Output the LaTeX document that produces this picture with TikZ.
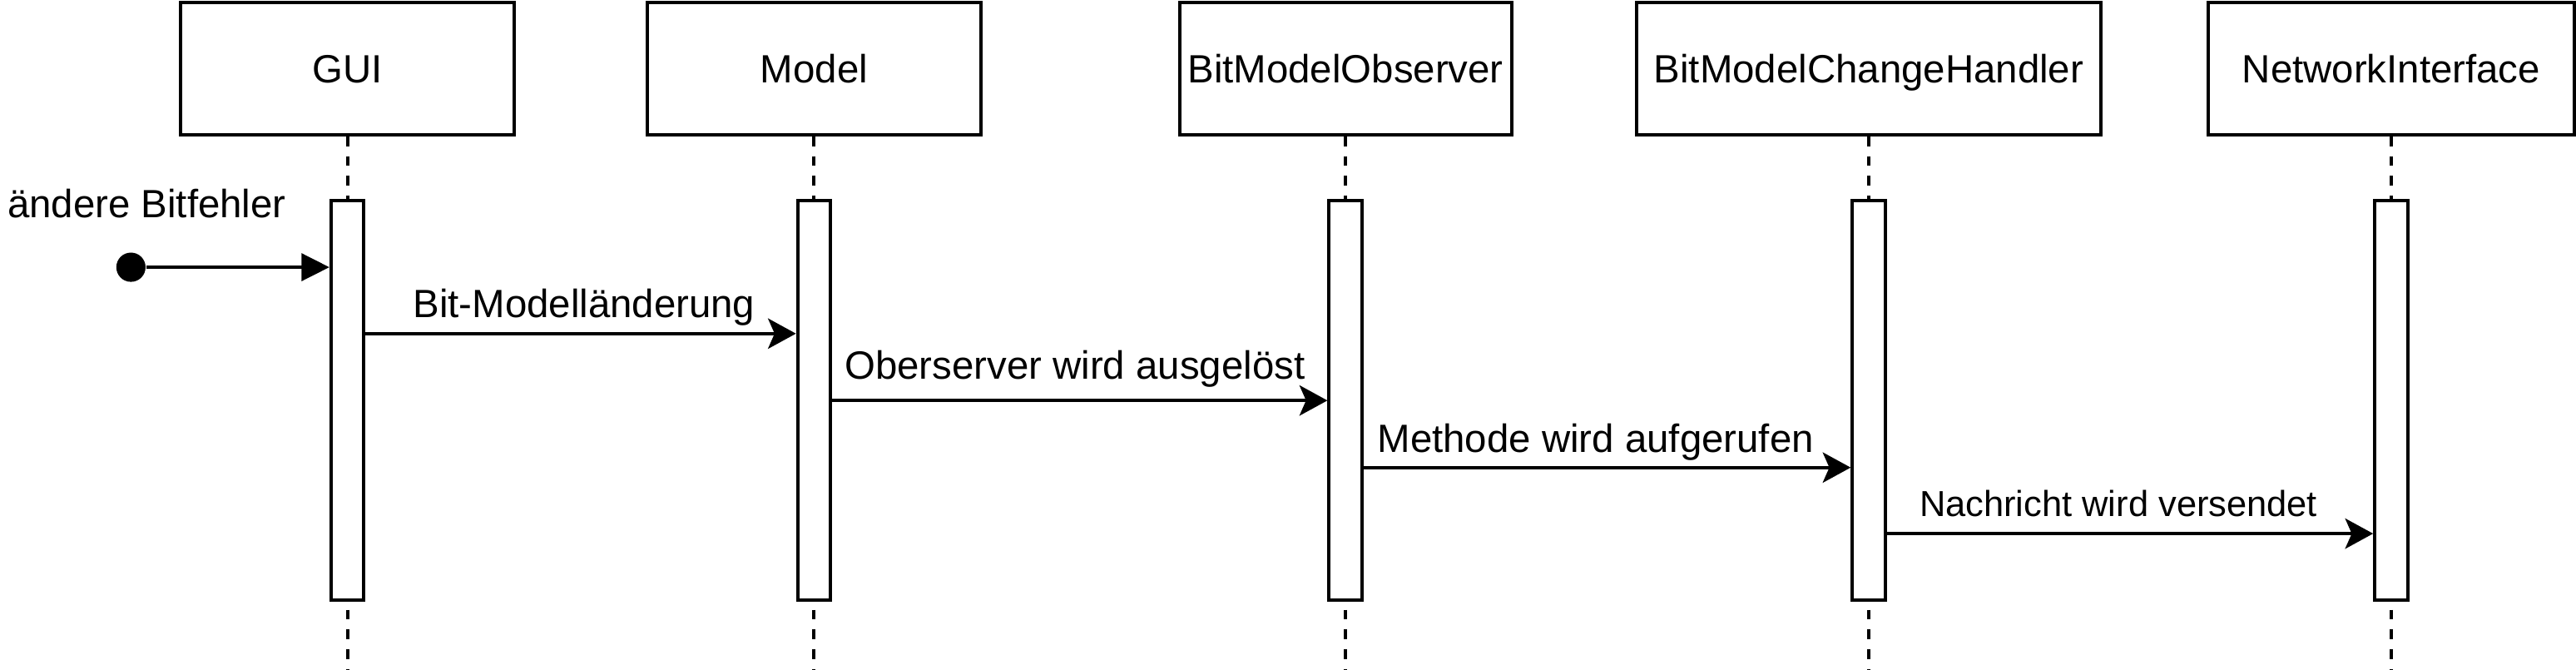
\documentclass[tikz,border=0pt]{standalone}
\usepackage{fontspec}
\setmainfont{Liberation Sans}
\usetikzlibrary{arrows.meta,positioning,calc}

\begin{document}
\begin{tikzpicture}[x=0.5pt, y=-0.5pt,
    lifebox/.style={draw, rectangle, line width=1pt, minimum height=40.2pt, inner sep=0pt,
      text height=8.6pt, text depth=0pt, font=\fontsize{12}{14}\selectfont},
    actbar/.style={draw, rectangle, line width=1pt, fill=white, minimum width=10pt,
      minimum height=121.5pt, inner sep=0pt},
    lifeline/.style={line width=1pt, dash pattern=on 3pt off 3pt},
    msg/.style={line width=1pt, -{Stealth[length=8.5pt, width=9.2pt, inset=2pt]}},
    msglabel/.style={midway, anchor=base, inner sep=0pt, font=\fontsize{12}{14}\selectfont}]
    \useasboundingbox (0,0) rectangle (1568,407.2);
    \coordinate (bottom) at (0,407.2);
    \coordinate (barmid) at (0,243.5);
    % Teilnehmer
    \node[lifebox, minimum width=101.5pt] (gui) at (211.5,41.8) {GUI};
    \node[lifebox, minimum width=101.5pt] (model) at (495.5,41.8) {Model};
    \node[lifebox, minimum width=101pt] (observer) at (819,41.8) {BitModelObserver};
    \node[lifebox, minimum width=141.5pt] (handler) at (1137.5,41.8) {BitModelChangeHandler};
    \node[lifebox, minimum width=111.5pt] (netif) at (1455.5,41.8) {NetworkInterface};
    % Lebenslinien und Aktivierungsbalken
    \foreach \p in {gui,model,observer,handler,netif} {
        \draw[lifeline] (\p.south) -- (\p.south |- bottom);
        \node[actbar] (\p-bar) at (\p.south |- barmid) {};
    }
    % Nachrichten
    \coordinate (m0) at (0,162.6);
    \coordinate (m1) at (0,203);
    \coordinate (m2) at (0,243.7);
    \coordinate (m3) at (0,284.5);
    \coordinate (m4) at (0,324.7);
    \node[circle, fill=black, minimum size=8.9pt, inner sep=0pt] (start) at (79.7,162.6) {};
    \node[anchor=base west, inner sep=0pt, font=\fontsize{12}{14}\selectfont] (trigger) at (4.2,132.5) {ändere Bitfehler};
    \draw[line width=1pt, -{Triangle[length=8.5pt, width=8.3pt]}] (start) -- (gui-bar.west |- m0);
    \draw[msg] (gui-bar.east |- m1) -- node[msglabel, yshift=4.8pt, xshift=1pt] {Bit-Modelländerung} (model-bar.west |- m1);
    \draw[msg] (model-bar.east |- m2) -- node[msglabel, yshift=6.6pt, xshift=-1.5pt] {Oberserver wird ausgelöst} (observer-bar.west |- m2);
    \draw[msg] (observer-bar.east |- m3) -- node[msglabel, yshift=4.7pt, xshift=-3.5pt] {Methode wird aufgerufen} (handler-bar.west |- m3);
    \draw[msg] (handler-bar.east |- m4) -- node[msglabel, yshift=5.3pt, xshift=-3.5pt, font=\fontsize{11}{13}\selectfont] {Nachricht wird versendet} (netif-bar.west |- m4);
\end{tikzpicture}
\end{document}
